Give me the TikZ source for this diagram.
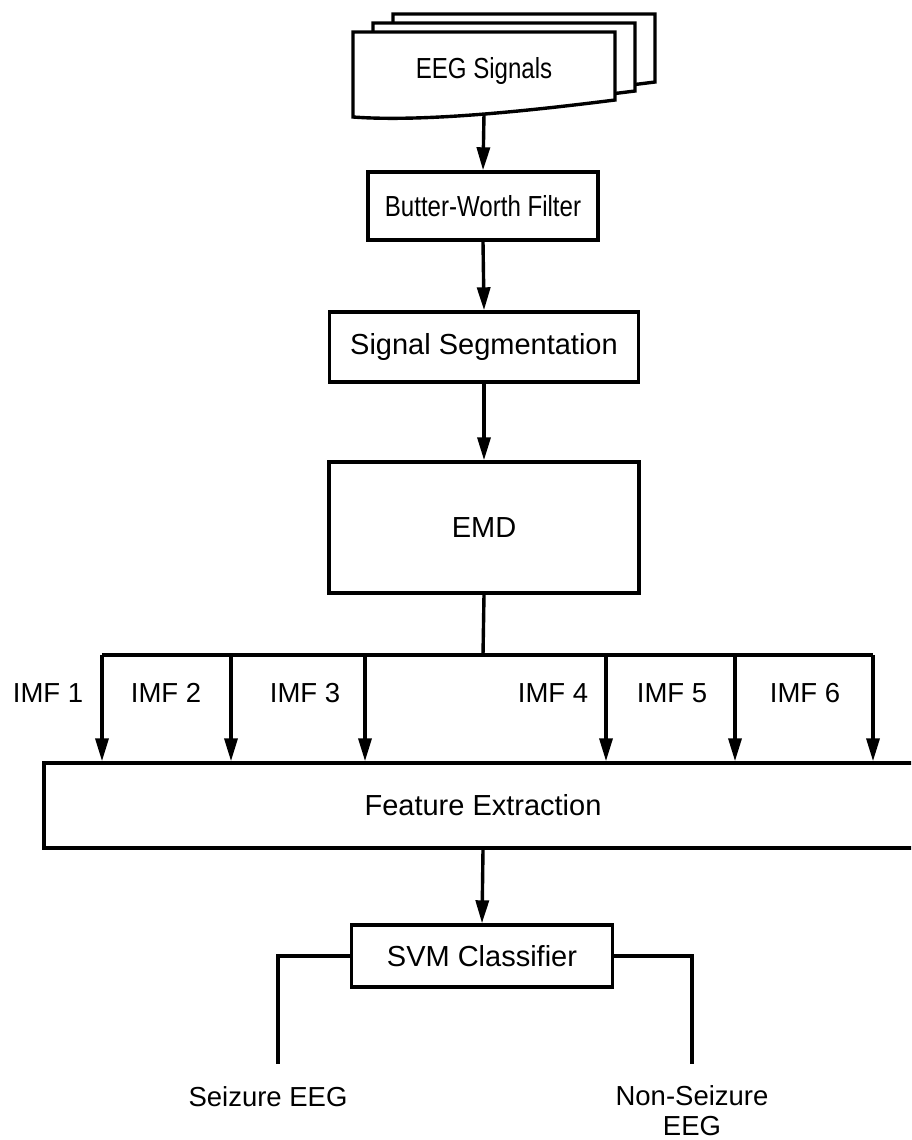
\documentclass[tikz,border=0pt]{standalone}
\usepackage{fontspec}
\setmainfont{Liberation Sans}
\usetikzlibrary{arrows.meta}
\newcommand{\narrowtext}[1]{\scalebox{0.83}[1]{#1}}
\begin{document}
\begin{tikzpicture}[x=1pt,y=-1pt,line width=3.4pt,
  fbig/.style={font=\fontsize{29}{31}\selectfont},
  fmid/.style={font=\fontsize{27.5}{30}\selectfont},
  lbl/.style={inner sep=0pt},
  proc/.style={draw, fill=white, line width=3.4pt, inner sep=0pt},
  arr/.style={-{Triangle[length=23pt,width=13pt]}},
  docshape/.style={draw, fill=white, line width=3.4pt}]
\useasboundingbox (0,0) rectangle (911,1140);
\clip (0,0) rectangle (911,1140);
% stacked documents
\foreach \dx/\dy in {40/18,20/9,0/0}{
  \draw[docshape, shift={(\dx,-\dy)}] (353,117) -- (353,32) -- (615,32) -- (615,100)
     .. controls (520,112) and (420,122) .. (353,117) -- cycle;
}
\node[lbl, fbig] (eeg) at (484,71) {\narrowtext{EEG Signals}};
\coordinate (eegb) at (484,114);
% process boxes
\node[proc, fbig, minimum width=230, minimum height=68] (bw) at (483,206) {\narrowtext{Butter-Worth Filter}};
\node[proc, fbig, minimum width=309, minimum height=70] (seg) at (484,347) {Signal Segmentation};
\node[proc, fbig, minimum width=310, minimum height=131] (emd) at (484,527.5) {EMD};
\node[proc, fbig, minimum width=878, minimum height=85] (fe) at (483,805.5) {Feature Extraction};
\node[proc, fbig, minimum width=261, minimum height=62] (svm) at (482,956) {SVM Classifier};
% main arrows
\draw[arr] (eegb) -- (bw.north);
\draw[arr] (bw.south) -- (seg.north);
\draw[arr] (seg.south) -- (emd.north);
\draw[arr] (fe.south) -- (svm.north);
% IMF distribution
\coordinate (jn) at (483,655);
\coordinate (i1) at (102,655);
\coordinate (i2) at (231,655);
\coordinate (i3) at (365,655);
\coordinate (i4) at (606,655);
\coordinate (i5) at (735,655);
\coordinate (i6) at (873,655);
\draw (emd.south) -- (jn);
\draw (i1) -- (i6);
\foreach \i in {1,...,6}{
  \draw[arr] (i\i) -- (i\i |- fe.north);
}
\node[lbl, fmid, anchor=base] (l1) at (48,702) {IMF 1};
\node[lbl, fmid, anchor=base] (l2) at (166,702) {IMF 2};
\node[lbl, fmid, anchor=base] (l3) at (305,702) {IMF 3};
\node[lbl, fmid, anchor=base] (l4) at (553,702) {IMF 4};
\node[lbl, fmid, anchor=base] (l5) at (672,702) {IMF 5};
\node[lbl, fmid, anchor=base] (l6) at (805,702) {IMF 6};
% outputs
\coordinate (sz) at (278,1064);
\coordinate (nsz) at (692,1064);
\draw (svm.west) -| (sz);
\draw (svm.east) -| (nsz);
\node[lbl, fmid] (szt) at (268,1097) {Seizure EEG};
\node[lbl, fmid, align=center] (nszt) at (692,1111) {Non-Seizure\\EEG};
\end{tikzpicture}
\end{document}
